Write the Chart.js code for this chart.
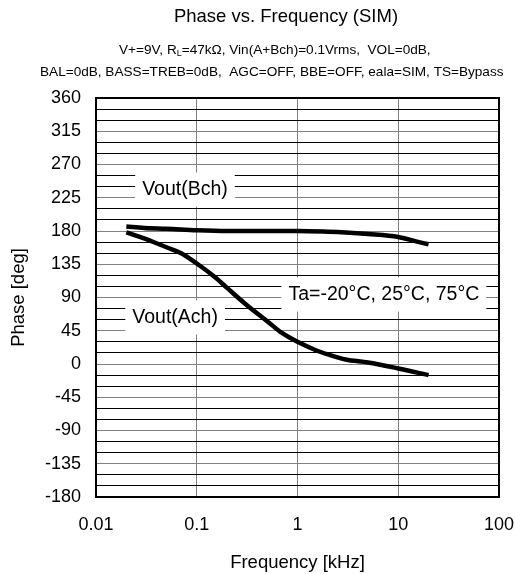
<!DOCTYPE html>
<html>
<head>
<meta charset="utf-8">
<script src="https://cdn.jsdelivr.net/npm/chart.js@4.4.0/dist/chart.umd.min.js"></script>
<style>
  html, body { margin: 0; padding: 0; background: #fff; }
  #wrap { width: 515px; height: 574px; }
</style>
</head>
<body>
<div id="wrap"><canvas id="myChart" width="515" height="574"></canvas></div>
<script>
const ctx = document.getElementById("myChart");

// frequency [kHz] and phase [deg]
const freqA = [0.02, 0.03, 0.05, 0.07, 0.1, 0.15, 0.2, 0.3, 0.5, 0.7, 1, 1.5, 2, 3, 5, 10, 20];
const phaseA = [178, 170, 158, 150, 136, 118, 103, 82, 58, 42, 30, 19, 13, 6, 2, -6, -15];
const freqB = [0.02, 0.03, 0.05, 0.1, 0.2, 0.5, 1, 2, 3, 5, 10, 15, 20];
const phaseB = [186, 184, 183, 181, 180, 180, 180, 179, 178, 176, 172, 166, 162];

const xTicks = [0.01, 0.1, 1, 10, 100];
const yMin = -180, yMax = 360, yStep = 15, yLabelStep = 45;

// annotation labels: [text, freq, phase]
const labels = [
    ['Vout(Bch)', 0.0764, 236],
    ['Vout(Ach)', 0.061, 63],
    ['Ta=-20\u00B0C, 25\u00B0C, 75\u00B0C', 7.2, 94]
];

const FONT = '"Liberation Sans", Arial, sans-serif';

function toPoints(xs, ys) {
    return xs.map((x, i) => ({ x: x, y: ys[i] }));
}

const textPlugin = {
    id: 'textPlugin',
    afterDraw: (chart) => {
        const { ctx, chartArea: { top, right, bottom, left }, scales: { x, y } } = chart;
        ctx.save();
        // frame
        ctx.strokeStyle = '#000';
        ctx.lineWidth = 2;
        ctx.strokeRect(left, top, right - left, bottom - top);

        // boxed labels
        ctx.font = '19.5px ' + FONT;
        ctx.textAlign = 'center';
        ctx.textBaseline = 'middle';
        labels.forEach(([t, fx, py]) => {
            const cx = x.getPixelForValue(fx);
            const cy = y.getPixelForValue(py);
            const w = ctx.measureText(t).width + 14;
            ctx.fillStyle = '#fff';
            ctx.fillRect(cx - w / 2, cy - 17, w, 34);
            ctx.fillStyle = '#000';
            ctx.fillText(t, cx, cy);
        });

        // title
        ctx.font = '18.5px ' + FONT;
        ctx.fillText('Phase vs. Frequency (SIM)', 286, 17);

        // subtitle line 1 with subscript
        ctx.textAlign = 'left';
        const p1 = 'V+=9V, R', sub = 'L', p2 = '=47k\u03A9, Vin(A+Bch)=0.1Vrms,  VOL=0dB,';
        ctx.font = '13.6px ' + FONT;
        const w1 = ctx.measureText(p1).width;
        ctx.fillText(p1, 119, 50);
        ctx.font = '9px ' + FONT;
        const w2 = ctx.measureText(sub).width;
        ctx.fillText(sub, 119 + w1, 54);
        ctx.font = '13.6px ' + FONT;
        ctx.fillText(p2, 119 + w1 + w2, 50);
        ctx.fillText('BAL=0dB, BASS=TREB=0dB,  AGC=OFF, BBE=OFF, eala=SIM, TS=Bypass', 40, 72);
        ctx.restore();
    }
};

new Chart(ctx, {
    type: 'scatter',
    data: {
        datasets: [
            {
                label: 'Vout(Ach)',
                data: toPoints(freqA, phaseA),
                showLine: true,
                borderColor: '#000',
                borderWidth: 4.5,
                pointRadius: 0,
                cubicInterpolationMode: 'monotone'
            },
            {
                label: 'Vout(Bch)',
                data: toPoints(freqB, phaseB),
                showLine: true,
                borderColor: '#000',
                borderWidth: 4.5,
                pointRadius: 0,
                cubicInterpolationMode: 'monotone'
            }
        ]
    },
    options: {
        responsive: false,
        animation: false,
        layout: { padding: { top: 98, right: 0, left: 0, bottom: 0 } },
        plugins: {
            legend: { display: false },
            tooltip: { enabled: false },
            title: { display: false }
        },
        scales: {
            x: {
                type: 'logarithmic',
                min: 0.01,
                max: 100,
                afterBuildTicks: (axis) => { axis.ticks = xTicks.map(v => ({ value: v })); },
                afterFit: (axis) => {
                    axis.height = 77;
                    axis.paddingRight = 16;
                    axis.paddingLeft = 0;
                },
                grid: { color: '#808080', lineWidth: 1, drawTicks: false },
                border: { display: false },
                ticks: {
                    color: '#000',
                    font: { family: FONT, size: 18 },
                    padding: 17,
                    maxRotation: 0,
                    callback: (v) => String(v)
                },
                title: {
                    display: true,
                    text: 'Frequency [kHz]',
                    color: '#000',
                    font: { family: FONT, size: 18.5 },
                    padding: { top: 16, bottom: 0 }
                }
            },
            y: {
                min: yMin,
                max: yMax,
                afterFit: (axis) => { axis.width = 96; },
                grid: {
                    color: (c) => (c.tick && c.tick.value % yLabelStep === 0) ? '#808080' : '#000',
                    lineWidth: 1,
                    drawTicks: false
                },
                border: { display: false },
                ticks: {
                    stepSize: yStep,
                    color: '#000',
                    font: { family: FONT, size: 18 },
                    padding: 15,
                    autoSkip: false,
                    callback: (v) => (v % yLabelStep === 0 ? String(v) : '')
                },
                title: {
                    display: true,
                    text: 'Phase [deg]',
                    color: '#000',
                    font: { family: FONT, size: 18.5 },
                    padding: { top: 8, bottom: 4 }
                }
            }
        }
    },
    plugins: [textPlugin]
});
</script>
</body>
</html>
